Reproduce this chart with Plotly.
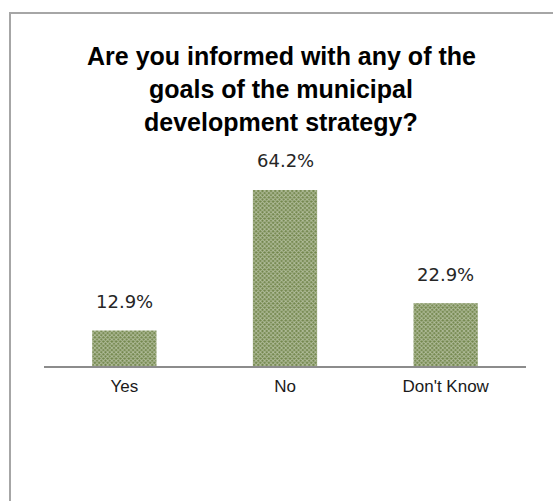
import plotly.graph_objects as go

categories = ["Yes", "No", "Don't Know"]
values = [12.9, 64.2, 22.9]
title_lines = ["Are you informed with any of the", "goals of the municipal", "development strategy?"]

W, H = 553, 501
L, R, T, B = 44, 27, 174, 135
plot_h = H - T - B
plot_w = W - L - R


def px_to_paper_y(py):
    return (H - B - py) / plot_h


def px_to_paper_x(px):
    return (px - L) / plot_w


fig = go.Figure(
    go.Bar(
        x=categories,
        y=values,
        marker=dict(
            color="#72864c",
            line=dict(width=0),
            pattern=dict(shape="x", fgcolor="#f4f6ee", bgcolor="#72864c", size=3, solidity=0.55),
        ),
        hoverinfo="skip",
    )
)

annotations = []
for c, v in zip(categories, values):
    annotations.append(dict(
        x=c, y=v, xref="x", yref="y", text=f"{v:.1f}%", showarrow=False,
        yanchor="middle", yshift=29,
        font=dict(family="DejaVu Sans", size=18, color="#262626"),
    ))

for i, line in enumerate(title_lines):
    annotations.append(dict(
        x=px_to_paper_x(281), y=px_to_paper_y(56 + 33 * i), xref="paper", yref="paper",
        text=f"<b>{line}</b>", showarrow=False, xanchor="center", yanchor="middle",
        font=dict(family="Liberation Sans", size=25, color="#000000"),
    ))

fig.update_layout(
    width=W, height=H,
    margin=dict(l=L, r=R, t=T, b=B, pad=0),
    paper_bgcolor="white", plot_bgcolor="white",
    showlegend=False,
    bargap=0.6,
    annotations=annotations,
    shapes=[dict(
        type="rect", xref="paper", yref="paper",
        x0=px_to_paper_x(10), x1=px_to_paper_x(W + 20),
        y0=px_to_paper_y(H + 20), y1=px_to_paper_y(13),
        line=dict(color="#a6a6a6", width=2), fillcolor="rgba(0,0,0,0)", layer="below",
    )],
    xaxis=dict(
        showline=True, linecolor="#8c8c8c", linewidth=1.5,
        ticks="", showgrid=False, zeroline=False, ticklabelstandoff=4,
        tickfont=dict(family="Liberation Sans", size=17, color="#1a1a1a"),
    ),
    yaxis=dict(
        range=[0, 70], visible=False, showgrid=False, zeroline=False,
    ),
)

fig.write_html("out.html")
